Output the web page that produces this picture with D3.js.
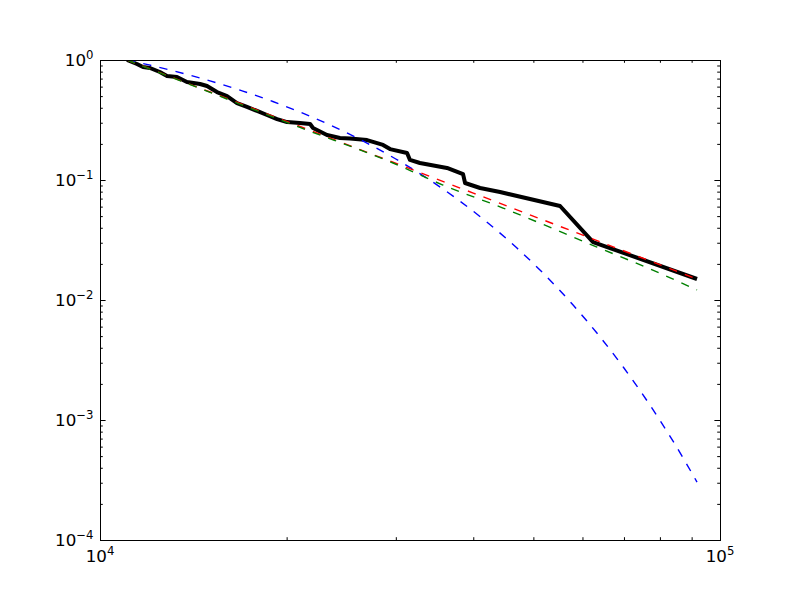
<!DOCTYPE html>
<html>
<head>
<meta charset="utf-8">
<script src="https://cdn.jsdelivr.net/npm/d3@7"></script>
<style>
  html, body { margin: 0; padding: 0; background: #fff; }
  svg { display: block; }
  text { font-family: "DejaVu Sans", sans-serif; }
</style>
</head>
<body>
<svg id="chart" width="800" height="600"></svg>
<script>
// ---- Data ----
// Empirical CCDF (black, thick)
const empiricalX = [11055, 11470, 11730, 12040, 12490, 12825, 13310, 13810, 14500, 14880, 15440, 16030, 16630, 17260, 17920, 18590, 19300, 20030, 21010, 21820, 22060, 23230, 24380, 25310, 26960, 28610, 29360, 31280, 31620, 32810, 36280, 38510, 38800, 41020, 44180, 55210, 62410, 91820];
const empiricalY = [1.0, 0.926, 0.874, 0.858, 0.794, 0.736, 0.722, 0.656, 0.631, 0.607, 0.541, 0.501, 0.438, 0.406, 0.376, 0.348, 0.322, 0.304, 0.2985, 0.293, 0.271, 0.237, 0.224, 0.222, 0.215, 0.196, 0.181, 0.168, 0.147, 0.1386, 0.126, 0.112, 0.0944, 0.0858, 0.0794, 0.0607, 0.0304, 0.01496];

// Exponential fit (blue, dashed)
const expX = [11055, 12000, 13000, 14000, 15000, 17000, 19000, 21000, 24000, 27000, 30000, 34000, 38000, 42000, 47000, 52000, 58000, 64000, 70000, 77000, 84000, 91820];
const expY = [1.0, 0.9096, 0.8228, 0.7443, 0.6733, 0.5510, 0.4508, 0.3689, 0.2731, 0.2021, 0.1496, 0.1002, 0.0671, 0.04493, 0.02721, 0.01648, 0.009031, 0.004948, 0.002711, 0.001344, 0.000666, 0.000304];

// Power-law fit (red, dashed)
const powX = [11055, 20000, 40000, 91820];
const powY = [1.0, 0.308, 0.0778, 0.01496];

// Lognormal fit (green, dashed)
const lognX = [11055, 14500, 21010, 29690, 35740, 44670, 63340, 77130, 91820];
const lognY = [1.0, 0.579, 0.274, 0.1386, 0.0908, 0.0584, 0.0276, 0.01813, 0.01212];

// Axis ticks
const xTickVals = [1e4, 1e5];
const xTickExp = ["4", "5"];
const yTickVals = [1, 0.1, 0.01, 0.001, 0.0001];
const yTickExp = ["0", "\u22121", "\u22122", "\u22123", "\u22124"];

// ---- Layout ----
const L = 100, R = 720, T = 60, B = 540;
const svg = d3.select("#chart");
svg.append("rect").attr("width", 800).attr("height", 600).attr("fill", "#fff");

const x = d3.scaleLog().domain([1e4, 1e5]).range([L, R]);
const y = d3.scaleLog().domain([1e-4, 1]).range([B, T]);

const zip = (xs, ys) => xs.map((v, i) => [v, ys[i]]);

const plot = svg.append("g");
plot.append("clipPath").attr("id", "clip").append("rect")
  .attr("x", L).attr("y", T).attr("width", R - L).attr("height", B - T);
const lines = plot.append("g").attr("clip-path", "url(#clip)");

const straight = d3.line().x(d => x(d[0])).y(d => y(d[1]));
const smooth = d3.line().x(d => x(d[0])).y(d => y(d[1])).curve(d3.curveMonotoneX);

lines.append("path").attr("d", straight(zip(empiricalX, empiricalY)))
  .attr("fill", "none").attr("stroke", "#000").attr("stroke-width", 4)
  .attr("stroke-linejoin", "round").attr("stroke-linecap", "butt");

lines.append("path").attr("d", smooth(zip(expX, expY)))
  .attr("fill", "none").attr("stroke", "#0000ff").attr("stroke-width", 1.4)
  .attr("stroke-dasharray", "8.3,8.3");

lines.append("path").attr("d", straight(zip(powX, powY)))
  .attr("fill", "none").attr("stroke", "#ff0000").attr("stroke-width", 1.4)
  .attr("stroke-dasharray", "8.3,8.3");

lines.append("path").attr("d", smooth(zip(lognX, lognY)))
  .attr("fill", "none").attr("stroke", "#008000").attr("stroke-width", 1.4)
  .attr("stroke-dasharray", "8.3,8.3");

// ---- Axes (ticks inward on all sides, classic style) ----
const major = 5.6, minor = 2.8;
function minorVals(scale) {
  const [a, b] = scale.domain();
  const out = [];
  for (let e = Math.floor(Math.log10(a)); e < Math.ceil(Math.log10(b)); e++) {
    for (let m = 2; m <= 9; m++) out.push(m * Math.pow(10, e));
  }
  return out.filter(v => v > a && v < b);
}
function addAxis(gen, tx, ty, vals, size) {
  const g = svg.append("g").attr("transform", `translate(${tx},${ty})`)
    .call(gen.tickValues(vals).tickSizeInner(-size).tickSizeOuter(0).tickFormat(""));
  g.select(".domain").remove();
  g.selectAll(".tick line").attr("stroke", "#000").attr("stroke-width", 1);
  return g;
}
addAxis(d3.axisBottom(x), 0, B, xTickVals, major);
addAxis(d3.axisBottom(x), 0, B, minorVals(x), minor);
addAxis(d3.axisTop(x), 0, T, xTickVals, major);
addAxis(d3.axisTop(x), 0, T, minorVals(x), minor);
addAxis(d3.axisLeft(y), L, 0, yTickVals, major);
addAxis(d3.axisLeft(y), L, 0, minorVals(y), minor);
addAxis(d3.axisRight(y), R, 0, yTickVals, major);
addAxis(d3.axisRight(y), R, 0, minorVals(y), minor);

// frame
svg.append("rect").attr("x", L).attr("y", T).attr("width", R - L).attr("height", B - T)
  .attr("fill", "none").attr("stroke", "#000").attr("stroke-width", 1)
  .attr("shape-rendering", "crispEdges");

// tick labels
function label(g, tx, ty, exp, anchor) {
  const t = g.append("text").attr("x", tx).attr("y", ty)
    .attr("text-anchor", anchor).attr("font-size", 16.7).attr("fill", "#000");
  t.append("tspan").text("10");
  t.append("tspan").attr("font-size", 11.7).attr("dy", -7).text(exp);
}
const lab = svg.append("g");
xTickVals.forEach((v, i) => label(lab, x(v), 562, xTickExp[i], "middle"));
yTickVals.forEach((v, i) => label(lab, 93.5, y(v) + 5.8, yTickExp[i], "end"));
</script>
</body>
</html>
